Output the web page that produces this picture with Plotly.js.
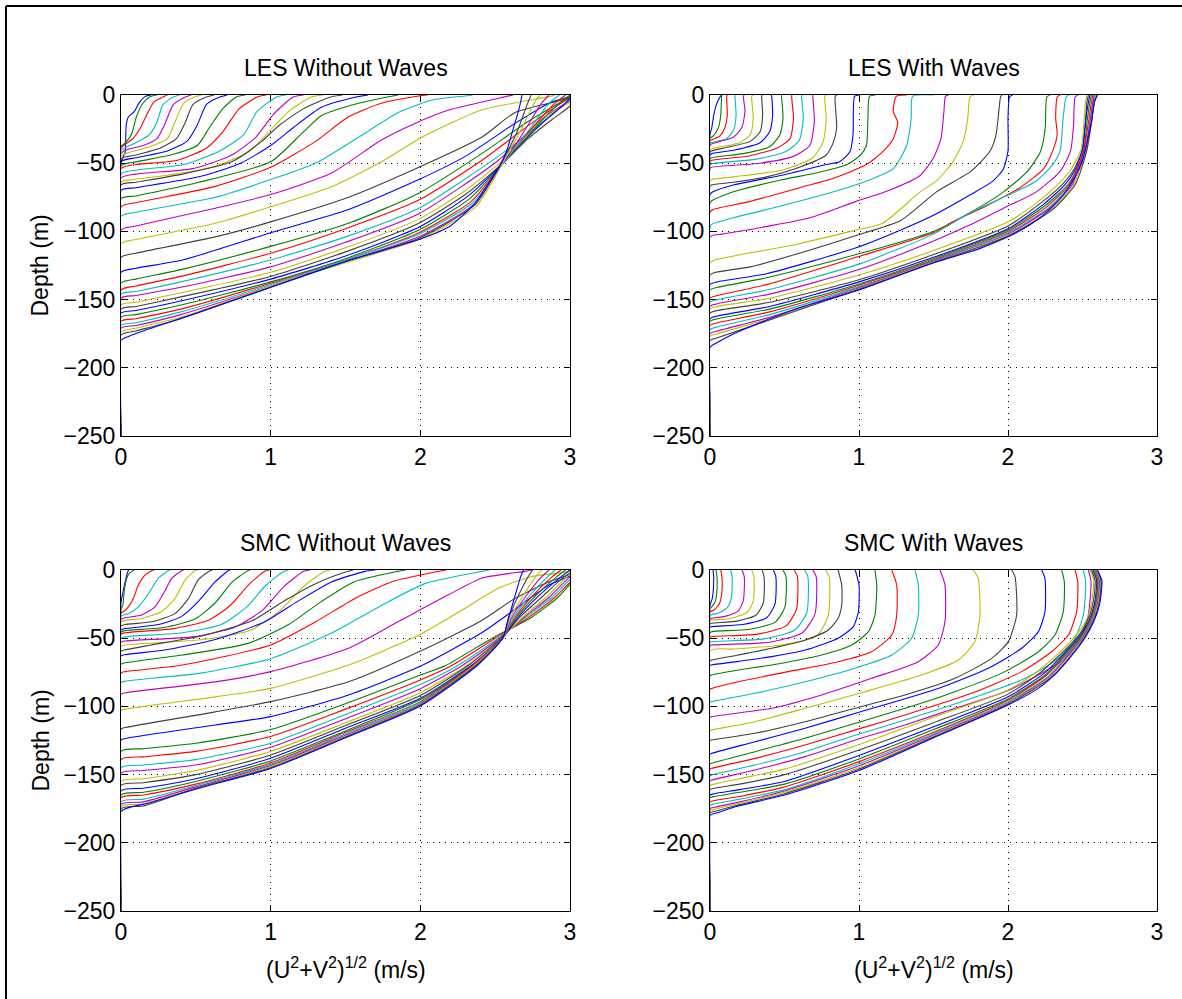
<!DOCTYPE html>
<html><head><meta charset="utf-8">
<script src="https://cdn.plot.ly/plotly-3.0.1.min.js"></script>
<style>html,body{margin:0;padding:0;background:#fff}#chart{width:1182px;height:999px}</style>
</head><body><div id="chart"></div>
<script>
const panelTitles = ['LES Without Waves','LES With Waves','SMC Without Waves','SMC With Waves'];
const yTitle = 'Depth (m)';
const xTitle = '(U<sup>2</sup>+V<sup>2</sup>)<sup>1/2</sup> (m/s)';
const lineColors = ['rgb(0,0,255)','rgb(0,128,0)','rgb(255,0,0)','rgb(0,191,191)','rgb(191,0,191)','rgb(191,191,0)','rgb(64,64,64)'];
const xTickVals = [0,1,2,3];
const yTickVals = [0,-50,-100,-150,-200,-250];
const profileBaseDepth = -250;

// each profile: [speed (m/s), depth (m)] pairs, surface to base
const lesNoWaves = [
[[0.2,0],[0.16,-1.2],[0.12,-6],[0.09,-12],[0.05,-16],[0.035,-22],[0.027,-42],[0,-50]],
[[0.24,0],[0.19,-1.5],[0.14,-7],[0.1,-17],[0.07,-29],[0.03,-35],[0,-38]],
[[0.31,0],[0.28,-1.5],[0.22,-5],[0.17,-15],[0.13,-24],[0.08,-32],[0.03,-36],[0,-39]],
[[0.39,0],[0.35,-1.5],[0.28,-7],[0.24,-20],[0.19,-29],[0.1,-35],[0.04,-38],[0,-41]],
[[0.47,0],[0.43,-1.5],[0.35,-7],[0.29,-22],[0.24,-32],[0.15,-37],[0.04,-40],[0,-43]],
[[0.54,0],[0.49,-1.5],[0.42,-6],[0.36,-20],[0.31,-32],[0.19,-38],[0.06,-42],[0,-45]],
[[0.62,0],[0.57,-1.5],[0.48,-7],[0.43,-20],[0.37,-32],[0.26,-39],[0.1,-44],[0,-47]],
[[0.71,0],[0.66,-1.5],[0.57,-7],[0.51,-22],[0.44,-34],[0.31,-41],[0.1,-46],[0,-49]],
[[0.83,0],[0.77,-1.5],[0.68,-10],[0.59,-24],[0.51,-37],[0.33,-44],[0.1,-49],[0,-52]],
[[0.97,0],[0.91,-1.5],[0.79,-10],[0.68,-27],[0.57,-39],[0.37,-48],[0.1,-51],[0,-54]],
[[1.1,0],[1.04,-1.5],[0.91,-12],[0.82,-29],[0.66,-41],[0.42,-51],[0.1,-55],[0,-58]],
[[1.22,0],[1.15,-1.5],[1.02,-14],[0.9,-31],[0.74,-44],[0.48,-54],[0.1,-58],[0,-61]],
[[1.35,0],[1.27,-1.5],[1.12,-12],[0.98,-28],[0.85,-42],[0.6,-53],[0.3,-59],[0.08,-62],[0,-64]],
[[1.48,0],[1.4,-1.5],[1.22,-10],[1.06,-22],[0.94,-34],[0.74,-49],[0.41,-58],[0.1,-64],[0,-66]],
[[1.65,0],[1.57,-1.5],[1.34,-9],[1.15,-24],[1.0,-37],[0.8,-50],[0.52,-60],[0.1,-68],[0,-70]],
[[1.85,0],[1.78,-1.5],[1.52,-8],[1.34,-15],[1.21,-28],[1.0,-49],[0.52,-64],[0.1,-74],[0,-76]],
[[2.05,0],[1.99,-0.7],[1.74,-6],[1.52,-16],[1.3,-34],[1.0,-53],[0.63,-67],[0.1,-79],[0,-82]],
[[2.35,0],[2.3,-0.7],[2.08,-3.7],[1.85,-13],[1.63,-28],[1.3,-50],[1.0,-62],[0.63,-75],[0.1,-86],[0,-89]],
[[2.62,0],[2.57,-1.2],[2.19,-11],[1.96,-21],[1.74,-33],[1.41,-57],[1.0,-73],[0.63,-83],[0.1,-96],[0,-99]],
[[2.9,0],[2.86,-1.2],[2.41,-11],[2.01,-31],[1.74,-49],[1.41,-67],[1.0,-82],[0.63,-94],[0.1,-106],[0,-109]],
[[3.05,0],[2.99,-2.4],[2.86,-6],[2.63,-13],[2.41,-31],[1.99,-53],[1.52,-75],[1.0,-93],[0.63,-104],[0.1,-116],[0,-119]],
[[3.05,0],[2.99,-1.5],[2.86,-6],[2.63,-21],[2.3,-45],[1.99,-62],[1.52,-84],[1.0,-101],[0.41,-121],[0.1,-127],[0,-130]],
[[3.08,0],[2.99,-2.4],[2.74,-18],[2.41,-43],[1.99,-72],[1.52,-94],[1.0,-111],[0.4,-128],[0.1,-135],[0,-138]],
[[3.08,0],[2.99,-3],[2.74,-21],[2.41,-48],[1.99,-77],[1.5,-98],[1.0,-116],[0.4,-133],[0.1,-140],[0,-143]],
[[3.08,0],[2.99,-4],[2.86,-16],[2.52,-45],[1.99,-83],[1.5,-104],[1.0,-121],[0.4,-137],[0.1,-144],[0,-146]],
[[3.08,0],[2.99,-5],[2.81,-18],[2.52,-48],[1.99,-87],[1.5,-108],[1.0,-126],[0.4,-141],[0.1,-147],[0,-149]],
[[3.05,0],[2.99,-6],[2.85,-15],[2.7,-30],[2.55,-48],[2.3,-70],[1.99,-91],[1.5,-112],[1.0,-130],[0.4,-145],[0.1,-152],[0,-154]],
[[3.05,0],[3.0,-8],[2.88,-18],[2.72,-32],[2.56,-49],[2.3,-73],[1.99,-94],[1.5,-115],[1.0,-133],[0.4,-148],[0.1,-155],[0,-157]],
[[3.02,0],[2.96,-7],[2.82,-20],[2.68,-35],[2.56,-49],[2.32,-74],[1.99,-97],[1.5,-118],[1.0,-135],[0.4,-151],[0.1,-158],[0,-160]],
[[3.0,0],[2.93,-6],[2.8,-20],[2.67,-36],[2.56,-49],[2.33,-76],[1.99,-99],[1.5,-120],[1.0,-137],[0.4,-154],[0.1,-161],[0,-163]],
[[2.97,0],[2.9,-6],[2.78,-20],[2.65,-37],[2.56,-49],[2.34,-78],[1.99,-101],[1.5,-121],[1.0,-138],[0.4,-157],[0.1,-164],[0,-166]],
[[2.93,0],[2.86,-6],[2.75,-22],[2.64,-38],[2.56,-49],[2.35,-79],[1.99,-102],[1.5,-121],[1.0,-139],[0.4,-159],[0.1,-167],[0,-169]],
[[2.86,0],[2.81,-6],[2.72,-22],[2.62,-39],[2.55,-50],[2.36,-80],[1.99,-104],[1.5,-122],[1.0,-140],[0.4,-161],[0.1,-169],[0,-171]],
[[2.8,0],[2.76,-6],[2.68,-24],[2.6,-40],[2.55,-50],[2.37,-82],[1.99,-106],[1.5,-123],[1.0,-140],[0.4,-163],[0.1,-171],[0,-174]],
[[2.74,0],[2.71,-8],[2.65,-26],[2.58,-42],[2.54,-50],[2.37,-80],[1.99,-105],[1.5,-122],[1.0,-141],[0.4,-164],[0.1,-173],[0,-176]],
[[2.68,0],[2.66,-10],[2.62,-25],[2.58,-40],[2.54,-50],[2.46,-64],[2.36,-80],[2.2,-96],[1.99,-106],[1.5,-122],[1.0,-141],[0.5,-160],[0.2,-171],[0.05,-177],[0,-180]]
];

const lesWaves = [
[[0.08,0],[0.07,-1],[0.04,-8],[0.025,-15],[0.012,-24],[0,-29]],
[[0.08,0],[0.078,-1],[0.072,-15],[0.056,-24],[0.022,-30],[0,-32]],
[[0.115,0],[0.112,-1],[0.116,-15],[0.1,-24],[0.067,-30],[0.01,-33],[0,-34]],
[[0.17,0],[0.168,-1],[0.175,-15],[0.157,-26],[0.11,-32],[0.01,-35],[0,-36]],
[[0.23,0],[0.224,-1],[0.235,-12],[0.213,-24],[0.157,-31],[0.067,-34],[0.01,-36],[0,-37]],
[[0.29,0],[0.28,-1],[0.29,-17],[0.27,-29],[0.2,-35],[0.067,-38],[0.01,-39.5],[0,-40.5]],
[[0.35,0],[0.347,-1],[0.353,-15],[0.336,-27],[0.27,-34],[0.11,-38.5],[0.01,-41],[0,-42]],
[[0.41,0],[0.414,-1],[0.42,-15],[0.4,-27],[0.336,-35],[0.157,-40.5],[0.01,-43],[0,-44]],
[[0.48,0],[0.48,-1],[0.49,-17],[0.47,-29],[0.4,-38],[0.22,-43],[0.01,-46],[0,-47]],
[[0.55,0],[0.548,-1],[0.56,-17],[0.537,-32],[0.447,-39],[0.27,-44.5],[0.01,-48],[0,-49]],
[[0.62,0],[0.615,-1],[0.626,-17],[0.6,-33],[0.51,-41.5],[0.31,-47],[0.01,-50.5],[0,-51.5]],
[[0.69,0],[0.69,-1],[0.7,-19.5],[0.67,-37],[0.56,-45],[0.336,-50],[0.01,-53],[0,-54]],
[[0.78,0],[0.77,-1],[0.78,-17],[0.76,-34],[0.69,-46],[0.49,-55],[0.157,-60],[0.01,-62],[0,-63]],
[[0.85,0],[0.84,-1],[0.85,-24],[0.83,-34],[0.78,-44],[0.6,-53],[0.38,-60],[0.157,-64],[0.01,-66],[0,-67]],
[[1.0,0],[0.97,-1],[0.96,-29],[0.94,-41.5],[0.87,-49],[0.78,-51],[0.49,-58.6],[0.157,-66],[0.02,-71],[0,-73]],
[[1.11,0],[1.07,-1],[1.06,-17],[1.05,-37],[1.01,-44],[0.92,-51],[0.72,-57],[0.49,-62],[0.157,-71],[0.02,-77],[0,-79]],
[[1.32,0],[1.25,-1],[1.23,-12],[1.26,-20],[1.23,-32],[1.16,-41.5],[1.05,-51],[0.83,-61],[0.6,-68],[0.27,-78],[0.02,-84],[0,-86]],
[[1.5,0],[1.36,-1],[1.35,-17],[1.32,-37],[1.23,-54],[1.1,-61],[0.83,-71],[0.49,-81],[0.157,-90],[0.01,-95],[0,-97]],
[[1.6,0],[1.58,-1],[1.57,-12],[1.55,-32],[1.5,-46],[1.41,-59],[1.2,-70],[0.98,-78],[0.67,-90],[0.3,-98],[0.08,-102],[0,-104]],
[[1.77,0],[1.745,-1.5],[1.73,-17],[1.7,-34],[1.63,-49],[1.52,-63],[1.41,-71],[1.16,-94],[0.98,-99],[0.6,-109],[0.16,-118],[0.03,-121],[0,-123]],
[[1.96,0],[1.95,-1.5],[1.94,-10],[1.92,-29],[1.88,-41],[1.75,-56],[1.52,-71],[1.28,-92],[0.98,-103],[0.6,-116],[0.27,-126],[0.04,-130],[0,-132]],
[[2.03,0],[2.01,-1.5],[2.0,-17],[2.0,-41],[1.97,-54],[1.9,-63],[1.75,-73],[1.52,-87],[1.3,-98],[0.98,-112],[0.38,-131],[0.05,-137],[0,-139]],
[[2.28,0],[2.26,-1.5],[2.25,-24],[2.22,-41],[2.13,-56],[1.97,-71],[1.75,-86],[1.5,-100],[0.98,-117],[0.38,-134],[0.05,-141],[0,-143]],
[[2.35,0],[2.33,-1.5],[2.32,-17],[2.33,-29],[2.3,-41],[2.24,-54],[2.08,-68],[1.86,-81],[1.63,-93],[1.5,-101],[0.98,-119],[0.38,-139],[0.05,-147],[0,-149]],
[[2.41,0],[2.39,-1.5],[2.37,-17],[2.35,-41],[2.3,-51],[2.19,-63],[2.01,-73],[1.75,-86],[1.5,-102],[1.0,-124],[0.38,-143],[0.05,-150],[0,-152]],
[[2.47,0],[2.45,-1.5],[2.44,-22],[2.42,-41],[2.35,-56],[2.19,-71],[1.97,-83],[1.75,-95],[1.5,-107],[1.0,-128],[0.4,-146],[0.05,-153],[0,-155]],
[[2.53,0],[2.52,-5],[2.51,-20],[2.49,-40],[2.42,-55],[2.33,-66],[2.18,-80],[2.0,-93],[1.5,-114],[1.0,-132],[0.4,-149],[0.05,-155],[0,-157]],
[[2.54,0],[2.53,-5],[2.52,-20],[2.5,-40],[2.44,-55],[2.36,-66],[2.21,-80],[2.0,-96],[1.5,-117],[1.0,-135.5],[0.4,-152],[0.05,-158],[0,-160]],
[[2.55,0],[2.54,-5],[2.52,-20],[2.5,-40],[2.45,-55],[2.38,-66],[2.24,-80],[2.0,-98],[1.5,-119],[1.0,-137],[0.4,-155],[0.05,-162],[0,-164]],
[[2.56,0],[2.55,-5],[2.53,-20],[2.51,-40],[2.46,-55],[2.4,-66],[2.25,-81],[2.0,-99],[1.5,-120],[1.0,-138.5],[0.4,-157],[0.05,-164],[0,-166]],
[[2.57,0],[2.56,-5],[2.54,-20],[2.51,-40],[2.46,-55],[2.41,-66],[2.26,-82],[2.0,-100],[1.5,-121],[1.0,-139.5],[0.4,-159],[0.05,-167],[0,-169]],
[[2.58,0],[2.57,-5],[2.55,-20],[2.52,-40],[2.47,-55],[2.42,-66],[2.27,-83],[2.0,-101],[1.5,-121.5],[1.0,-140.5],[0.4,-161],[0.05,-170],[0,-172]],
[[2.58,0],[2.57,-5],[2.55,-20],[2.52,-40],[2.47,-55],[2.43,-66],[2.28,-83],[2.0,-102],[1.5,-122],[1.0,-141.3],[0.4,-163],[0.05,-173],[0,-175]],
[[2.59,0],[2.58,-5],[2.56,-20],[2.53,-40],[2.48,-55],[2.44,-66],[2.29,-84],[2.0,-103],[1.5,-122.5],[1.0,-142],[0.4,-164],[0.05,-175],[0,-177]],
[[2.6,0],[2.58,-5],[2.56,-20],[2.53,-40],[2.49,-55],[2.45,-66],[2.3,-84],[2.0,-103.5],[1.5,-123],[1.0,-142.5],[0.4,-165],[0.05,-178],[0,-180]],
[[2.6,0],[2.58,-5],[2.56,-20],[2.53,-35],[2.5,-48],[2.45,-60],[2.38,-72],[2.28,-84],[2.15,-95],[2.0,-104],[1.8,-113],[1.5,-123],[1.0,-143],[0.6,-156],[0.38,-165],[0.16,-175],[0.04,-182],[0,-185]]
];

const smcNoWaves = [
[[0.05,0],[0.04,-3],[0.025,-10],[0.01,-18],[0,-24]],
[[0.09,0],[0.06,-2],[0.038,-6],[0.022,-15],[0.012,-26],[0,-29]],
[[0.22,0],[0.205,-0.5],[0.16,-3.7],[0.116,-11],[0.082,-21],[0.049,-27],[0.016,-30.6],[0,-31.5]],
[[0.33,0],[0.316,-0.5],[0.25,-6],[0.18,-18],[0.116,-27],[0.05,-32],[0.016,-33],[0,-34]],
[[0.42,0],[0.405,-0.5],[0.34,-6],[0.29,-16],[0.227,-27],[0.138,-33],[0.027,-35],[0,-36]],
[[0.51,0],[0.494,-0.5],[0.43,-7],[0.36,-21],[0.27,-30.6],[0.138,-35.5],[0.027,-37],[0,-38]],
[[0.61,0],[0.595,-0.5],[0.517,-7],[0.45,-21],[0.36,-32],[0.205,-38],[0.027,-40],[0,-41]],
[[0.73,0],[0.717,-0.5],[0.63,-8.6],[0.517,-23],[0.405,-34],[0.25,-40],[0.027,-43],[0,-44]],
[[0.86,0],[0.84,-1],[0.74,-9],[0.63,-24],[0.494,-36],[0.294,-42],[0.027,-44.5],[0,-45.5]],
[[0.99,0],[0.96,-1],[0.86,-10],[0.73,-26],[0.58,-37],[0.35,-43],[0.03,-46],[0,-47]],
[[1.12,0],[1.09,-1],[0.97,-11],[0.84,-27],[0.67,-40],[0.41,-46],[0.03,-49],[0,-50]],
[[1.26,0],[1.22,-1],[1.09,-12],[0.95,-29],[0.76,-42],[0.48,-49],[0.03,-52],[0,-53]],
[[1.4,0],[1.36,-1],[1.22,-12],[1.06,-30],[0.87,-44],[0.55,-51],[0.03,-55],[0,-56]],
[[1.55,0],[1.5,-1.5],[1.3,-10],[1.1,-22],[0.88,-37],[0.55,-48],[0.2,-55],[0.03,-58.5],[0,-59.5]],
[[1.7,0],[1.63,-1],[1.41,-8.6],[1.18,-23],[0.96,-38],[0.63,-51],[0.29,-58.7],[0.03,-62],[0,-63]],
[[1.9,0],[1.85,-1],[1.56,-8.6],[1.34,-23],[1.12,-40],[0.85,-53.8],[0.41,-62.3],[0.03,-68],[0,-69]],
[[2.17,0],[2.12,-1],[1.81,-8.6],[1.56,-21],[1.3,-38],[1.0,-55],[0.41,-69.7],[0.03,-74.5],[0,-75.5]],
[[2.46,0],[2.41,-1],[2.03,-10],[1.74,-26],[1.41,-46],[1.0,-65],[0.52,-75.8],[0.03,-81.5],[0,-82.5]],
[[2.75,0],[2.7,-1],[2.41,-6],[2.19,-18],[1.85,-38],[1.52,-57.4],[1.0,-74.5],[0.63,-82],[0.03,-90],[0,-91]],
[[3.05,0],[2.99,-1.2],[2.74,-5],[2.52,-13.4],[2.3,-28],[1.99,-47.7],[1.52,-69.7],[1.0,-86.8],[0.63,-93],[0.03,-102],[0,-103]],
[[3.1,0],[2.99,-3.7],[2.86,-8.6],[2.63,-21],[2.41,-37],[1.99,-60],[1.52,-82],[1.0,-96.5],[0.63,-104],[0.03,-115.5],[0,-116.5]],
[[3.12,0],[2.99,-4.9],[2.86,-11],[2.63,-29],[2.41,-46],[1.99,-71],[1.52,-91.6],[1.0,-107.5],[0.63,-113.6],[0.03,-123.5],[0,-124.5]],
[[3.15,0],[3.05,-5],[2.92,-20],[2.74,-35],[2.48,-50],[2.17,-70],[2.0,-77],[1.5,-98],[1.0,-117],[0.5,-127],[0.15,-131],[0,-133]],
[[3.13,0],[3.04,-5],[2.9,-20],[2.72,-35],[2.5,-50],[2.21,-70],[2.0,-80.6],[1.5,-102],[1.0,-122],[0.5,-133],[0.15,-137],[0,-139]],
[[3.1,0],[3.02,-5],[2.88,-20],[2.7,-35],[2.52,-50],[2.25,-70],[2.0,-84],[1.5,-106],[1.0,-127],[0.5,-139],[0.15,-143],[0,-145]],
[[3.08,0],[3.0,-5],[2.86,-20],[2.69,-35],[2.53,-50],[2.28,-70],[2.0,-87],[1.5,-109],[1.0,-130],[0.5,-143],[0.15,-147],[0,-149]],
[[3.05,0],[2.98,-5],[2.84,-20],[2.68,-35],[2.54,-50],[2.31,-70],[2.0,-90],[1.5,-112],[1.0,-133],[0.5,-147],[0.15,-153],[0,-155]],
[[3.03,0],[2.96,-5],[2.81,-20],[2.66,-35],[2.54,-50],[2.32,-70],[2.0,-92],[1.5,-114],[1.0,-135.6],[0.5,-150],[0.15,-156],[0,-158]],
[[3.0,0],[2.94,-5],[2.78,-20],[2.65,-35],[2.55,-50],[2.34,-70],[2.0,-94],[1.5,-116],[1.0,-138],[0.5,-153],[0.15,-160],[0,-162]],
[[2.97,0],[2.91,-5],[2.76,-20],[2.64,-35],[2.55,-50],[2.35,-70],[2.0,-95],[1.5,-118],[1.0,-140],[0.5,-155],[0.15,-163],[0,-165]],
[[2.94,0],[2.88,-5],[2.74,-20],[2.63,-35],[2.55,-50],[2.35,-70],[2.0,-96.5],[1.5,-119],[1.0,-141.5],[0.5,-157],[0.15,-165],[0,-167]],
[[2.9,0],[2.85,-5],[2.72,-20],[2.62,-35],[2.55,-50],[2.36,-70],[2.0,-97],[1.5,-120],[1.0,-142.5],[0.5,-158],[0.15,-168],[0,-170]],
[[2.86,0],[2.81,-5],[2.7,-20],[2.61,-35],[2.55,-50],[2.36,-70],[2.0,-98],[1.5,-121],[1.0,-143.4],[0.5,-159],[0.15,-170],[0,-172]],
[[2.81,0],[2.77,-5],[2.68,-20],[2.6,-35],[2.55,-50],[2.36,-70],[2.0,-98.5],[1.5,-122],[1.0,-144],[0.5,-160],[0.15,-171.5],[0,-173.5]],
[[2.75,0],[2.72,-5],[2.65,-20],[2.59,-35],[2.55,-50],[2.37,-70],[2.0,-99],[1.5,-122.5],[1.0,-145],[0.5,-160],[0.15,-173],[0,-175]],
[[2.69,0],[2.67,-5],[2.63,-20],[2.59,-35],[2.55,-50],[2.38,-70],[2.0,-99.7],[1.5,-123],[1.0,-145.5],[0.52,-160],[0.18,-171],[0,-177]]
];

const smcWaves = [
[[0.02,0],[0.025,-5],[0.022,-15],[0.015,-21],[0.005,-24],[0,-26]],
[[0.04,0],[0.047,-5],[0.045,-17],[0.035,-23],[0.012,-27],[0,-28.5]],
[[0.072,0],[0.08,-5],[0.078,-18],[0.062,-25],[0.025,-29.5],[0,-31]],
[[0.138,0],[0.148,-5],[0.145,-19],[0.12,-27],[0.06,-31.5],[0,-33.5]],
[[0.215,0],[0.23,-5],[0.224,-22],[0.19,-30],[0.1,-34],[0.011,-35.4],[0,-36]],
[[0.28,0],[0.295,-5],[0.29,-23],[0.25,-31],[0.14,-35.5],[0.011,-36.7],[0,-37.5]],
[[0.35,0],[0.363,-5],[0.358,-24],[0.31,-33],[0.18,-37.5],[0.011,-39],[0,-39.5]],
[[0.425,0],[0.442,-5],[0.436,-25],[0.38,-35],[0.22,-40],[0.011,-41.5],[0,-42]],
[[0.49,0],[0.51,-5],[0.503,-27],[0.44,-38],[0.27,-43.5],[0.011,-45.2],[0,-46]],
[[0.565,0],[0.587,-5],[0.58,-29],[0.51,-41],[0.32,-47],[0.011,-48.9],[0,-49.5]],
[[0.635,0],[0.657,-5],[0.65,-31],[0.57,-44],[0.36,-50.5],[0.011,-52.6],[0,-53.2]],
[[0.69,0],[0.713,-5],[0.705,-32],[0.62,-46],[0.4,-53],[0.011,-55],[0,-55.6]],
[[0.775,0],[0.8,-5],[0.794,-33],[0.72,-48],[0.48,-55],[0.15,-58],[0,-59.3]],
[[0.86,0],[0.884,-11],[0.884,-25.7],[0.86,-35.4],[0.794,-44],[0.64,-51.3],[0.414,-57.4],[0.19,-62.3],[0.011,-66],[0,-66.5]],
[[0.975,0],[1.0,-11],[0.996,-30.5],[0.962,-41.5],[0.86,-50],[0.64,-58.7],[0.414,-63.5],[0.19,-67],[0.011,-69.6],[0,-70]],
[[1.107,0],[1.119,-11],[1.107,-33],[1.063,-45.2],[0.951,-55],[0.749,-62.3],[0.414,-69.6],[0.19,-73.3],[0.011,-77],[0,-77.5]],
[[1.22,0],[1.253,-11],[1.253,-33],[1.22,-47.7],[1.085,-59.9],[0.861,-67.2],[0.526,-74.5],[0.19,-81.9],[0.011,-86.8],[0,-87.3]],
[[1.376,0],[1.398,-11],[1.398,-33],[1.353,-50],[1.22,-62.3],[0.973,-72],[0.638,-81.9],[0.302,-90.4],[0.011,-96.5],[0,-97]],
[[1.544,0],[1.577,-11],[1.577,-37.9],[1.532,-55],[1.398,-67.2],[1.085,-79.4],[0.749,-91.6],[0.414,-101.4],[0.011,-107.5],[0,-108]],
[[1.767,0],[1.8,-6.1],[1.812,-33],[1.778,-52.5],[1.667,-66],[1.42,-77],[1.04,-89.2],[0.638,-101.4],[0.302,-111.2],[0.011,-117.3],[0,-117.8]],
[[2.025,0],[2.047,-4.9],[2.058,-33],[2.002,-52.5],[1.89,-64.8],[1.644,-79.4],[1.309,-91.6],[1.011,-100.2],[0.638,-111.2],[0.302,-119.7],[0.011,-124.6],[0,-125]],
[[2.226,0],[2.248,-6.1],[2.248,-30.5],[2.204,-45.2],[2.092,-57.4],[1.868,-72],[1.532,-86.8],[1.011,-103.9],[0.638,-116],[0.302,-125.9],[0.011,-134.4],[0,-135]],
[[2.36,0],[2.378,-8.6],[2.371,-30.5],[2.315,-47.7],[2.204,-59.9],[1.98,-74.5],[1.644,-89.2],[1.309,-101.4],[1.011,-111.2],[0.638,-123.4],[0.302,-133.2],[0.011,-141.7],[0,-142.2]],
[[2.45,0],[2.468,-8.6],[2.461,-30.5],[2.405,-47.7],[2.293,-59.9],[2.092,-74.5],[1.756,-90.4],[1.309,-106.3],[1.011,-116.1],[0.638,-128.3],[0.302,-138.1],[0.011,-145.4],[0,-146]],
[[2.506,0],[2.521,-8.6],[2.506,-33],[2.45,-50],[2.338,-64.8],[2.114,-79.4],[1.756,-94.1],[1.309,-110],[1.011,-119.8],[0.638,-133.2],[0.302,-143],[0.011,-150.3],[0,-151]],
[[2.539,0],[2.557,-8.6],[2.539,-33],[2.494,-47.7],[2.383,-64.8],[2.204,-77],[1.98,-89.2],[1.644,-101.4],[1.309,-113.6],[1.011,-123.4],[0.638,-136.8],[0.302,-146.6],[0.011,-154],[0,-154.5]],
[[2.55,0],[2.575,-8],[2.56,-25],[2.52,-38],[2.44,-50],[2.33,-62],[2.2,-74],[2.0,-88],[1.5,-108],[1.0,-128],[0.5,-146],[0.2,-153],[0.03,-157],[0,-158]],
[[2.56,0],[2.585,-8],[2.57,-25],[2.53,-38],[2.46,-50],[2.35,-62],[2.22,-75],[2.0,-91],[1.5,-112],[1.0,-132],[0.5,-150],[0.2,-157],[0.03,-160],[0,-161]],
[[2.57,0],[2.595,-8],[2.58,-25],[2.54,-38],[2.47,-50],[2.37,-62],[2.24,-76],[2.0,-93],[1.5,-115],[1.0,-136],[0.5,-155],[0.2,-161],[0.03,-164],[0,-165]],
[[2.57,0],[2.6,-8],[2.585,-25],[2.545,-38],[2.48,-50],[2.38,-62],[2.25,-77],[2.0,-94.5],[1.5,-117],[1.0,-138.5],[0.5,-157],[0.2,-163],[0.03,-166],[0,-167]],
[[2.58,0],[2.605,-8],[2.59,-25],[2.55,-38],[2.49,-50],[2.39,-62],[2.26,-77],[2.0,-95.5],[1.5,-119],[1.0,-140.5],[0.5,-159],[0.2,-166],[0.03,-169],[0,-170]],
[[2.585,0],[2.61,-8],[2.595,-25],[2.555,-38],[2.495,-50],[2.4,-62],[2.27,-78],[2.0,-96.5],[1.5,-120],[1.0,-142],[0.5,-161],[0.2,-168],[0.03,-171.5],[0,-172.5]],
[[2.59,0],[2.615,-8],[2.6,-25],[2.56,-38],[2.5,-50],[2.41,-62],[2.28,-78],[2.0,-97.5],[1.5,-121],[1.0,-143.5],[0.5,-162],[0.2,-170],[0.03,-174],[0,-175]],
[[2.595,0],[2.62,-8],[2.605,-25],[2.565,-38],[2.505,-50],[2.42,-62],[2.29,-78],[2.0,-98],[1.5,-122],[1.0,-145],[0.5,-163],[0.2,-171],[0.03,-175.5],[0,-176.5]],
[[2.6,0],[2.625,-8],[2.61,-25],[2.57,-38],[2.51,-50],[2.43,-62],[2.3,-78],[2.0,-98.5],[1.5,-122.5],[1.0,-146],[0.5,-164],[0.2,-172],[0.03,-177],[0,-178]],
[[2.6,0],[2.63,-8],[2.615,-25],[2.575,-38],[2.515,-50],[2.44,-61],[2.32,-76],[2.2,-87],[2.0,-99],[1.5,-123],[1.0,-147],[0.5,-165],[0.19,-173],[0.05,-178],[0,-180]]
];

// ---- layout geometry (pixels of the 1182x999 page) ----
const W = 1182, H = 999;
const colsPx = [[121,570],[710,1157]];
const rowsPx = [[95,436],[570,911]];
const fx = p => p / W;
const fy = p => 1 - p / H;

const panels = [
  {data: lesNoWaves, xa: 'x',  ya: 'y',  col: 0, row: 0},
  {data: lesWaves,   xa: 'x2', ya: 'y2', col: 1, row: 0},
  {data: smcNoWaves, xa: 'x3', ya: 'y3', col: 0, row: 1},
  {data: smcWaves,   xa: 'x4', ya: 'y4', col: 1, row: 1}
];

const traces = [];
panels.forEach(p => {
  p.data.forEach((prof, i) => {
    const xs = prof.map(q => q[0]);
    const ys = prof.map(q => q[1]);
    xs.push(0); ys.push(profileBaseDepth);
    traces.push({
      x: xs, y: ys, type: 'scatter', mode: 'lines',
      line: {color: lineColors[i % lineColors.length], width: 1.1, shape: 'spline', smoothing: 0.6},
      xaxis: p.xa, yaxis: p.ya, showlegend: false, hoverinfo: 'skip'
    });
  });
});

const font = {family: 'Liberation Sans, Arial, Helvetica, sans-serif', size: 23, color: '#000'};
function axisX(col, row, anchor) {
  return {
    domain: [fx(colsPx[col][0]), fx(colsPx[col][1])], anchor: anchor,
    range: [0, 3], tickvals: xTickVals, ticks: 'inside', ticklen: 6, tickcolor: '#000',
    showline: true, linecolor: '#000', linewidth: 1, mirror: 'ticks',
    showgrid: true, gridcolor: '#000', griddash: '1px,5px', gridwidth: 1,
    zeroline: false, tickfont: font, layer: 'below traces', fixedrange: true
  };
}
function axisY(col, row, anchor) {
  return {
    domain: [fy(rowsPx[row][1]), fy(rowsPx[row][0])], anchor: anchor,
    range: [-250, 0], tickvals: yTickVals, ticks: 'inside', ticklen: 6, tickcolor: '#000',
    showline: true, linecolor: '#000', linewidth: 1, mirror: 'ticks',
    showgrid: true, gridcolor: '#000', griddash: '1px,5px', gridwidth: 1,
    zeroline: false, tickfont: font, layer: 'below traces', fixedrange: true
  };
}

const annotations = [];
panels.forEach((p, k) => {
  const cx = (colsPx[p.col][0] + colsPx[p.col][1]) / 2;
  annotations.push({text: panelTitles[k], xref: 'paper', yref: 'paper', x: fx(cx), y: fy(rowsPx[p.row][0] - 27),
    xanchor: 'center', yanchor: 'middle', showarrow: false, font: font});
  if (p.col === 0) {
    annotations.push({text: yTitle, xref: 'paper', yref: 'paper', x: fx(40), y: fy((rowsPx[p.row][0] + rowsPx[p.row][1]) / 2),
      xanchor: 'center', yanchor: 'middle', textangle: -90, showarrow: false, font: font});
  }
  if (p.row === 1) {
    annotations.push({text: xTitle, xref: 'paper', yref: 'paper', x: fx(cx), y: fy(968),
      xanchor: 'center', yanchor: 'middle', showarrow: false, font: font});
  }
});

const layout = {
  width: W, height: H, margin: {l: 0, r: 0, t: 0, b: 0},
  paper_bgcolor: '#fff', plot_bgcolor: '#fff', showlegend: false,
  xaxis: axisX(0, 0, 'y'), yaxis: axisY(0, 0, 'x'),
  xaxis2: axisX(1, 0, 'y2'), yaxis2: axisY(1, 0, 'x2'),
  xaxis3: axisX(0, 1, 'y3'), yaxis3: axisY(0, 1, 'x3'),
  xaxis4: axisX(1, 1, 'y4'), yaxis4: axisY(1, 1, 'x4'),
  annotations: annotations,
  shapes: [
    {type: 'line', xref: 'paper', yref: 'paper', x0: fx(6), y0: fy(6), x1: 1.01, y1: fy(6), line: {color: '#000', width: 2}},
    {type: 'line', xref: 'paper', yref: 'paper', x0: fx(6), y0: fy(6), x1: fx(6), y1: -0.01, line: {color: '#000', width: 2}}
  ]
};

Plotly.newPlot('chart', traces, layout, {displayModeBar: false, staticPlot: true});
</script>
</body></html>
